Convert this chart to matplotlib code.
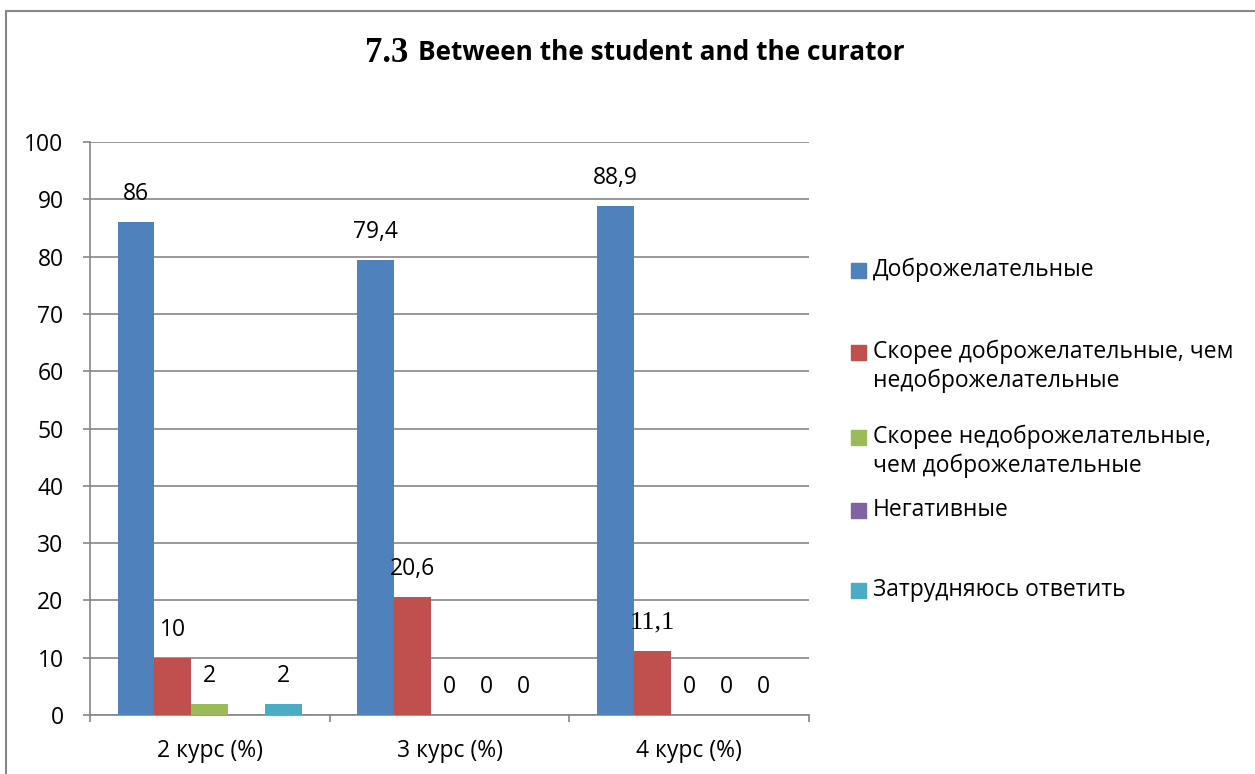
import numpy as np
import matplotlib
matplotlib.use("Agg")
import matplotlib.pyplot as plt
from matplotlib.patches import Rectangle

plt.rcParams['font.family'] = ['Open Sans', 'DejaVu Sans']

# Data
categories = ['2 курс (%)', '3 курс (%)', '4 курс (%)']
series_names = ['Доброжелательные',
                'Скорее доброжелательные, чем\nнедоброжелательные',
                'Скорее недоброжелательные,\nчем доброжелательные',
                'Негативные',
                'Затрудняюсь ответить']
friendly = [86, 79.4, 88.9]
rather_friendly = [10, 20.6, 11.1]
rather_unfriendly = [2, 0, 0]
negative = [np.nan, 0, 0]   # blank cell for 2 курс
hard_to_say = [2, 0, 0]
values = [friendly, rather_friendly, rather_unfriendly, negative, hard_to_say]

colors = ['#4F81BD', '#C0504D', '#9BBB59', '#8064A2', '#4BACC6']
grey = '#868686'
W, H = 1255, 774

fig = plt.figure(figsize=(12.55, 7.74), dpi=100)
ax = fig.add_axes([90 / W, 1 - 715 / H, (809 - 90) / W, (715 - 142) / H])

x = np.arange(len(categories))
bw = 0.154
for i, (vals, col) in enumerate(zip(values, colors)):
    pos = x + (i - 2) * bw
    ax.bar(pos, vals, width=bw, color=col, linewidth=0, zorder=3)
    for p, v, cat in zip(pos, vals, range(len(categories))):
        if np.isnan(v):
            continue
        txt = f'{v:g}'.replace('.', ',')
        # the 11,1 label was typed in a serif font in the original
        if i == 1 and cat == 2:
            ax.annotate(txt, (p, v), xytext=(0, 21), textcoords='offset points',
                        ha='center', va='center', fontsize=19,
                        family=['Liberation Serif'], zorder=4)
        else:
            ax.annotate(txt, (p, v), xytext=(0, 20), textcoords='offset points',
                        ha='center', va='center', fontsize=16.5, zorder=4)

ax.set_ylim(0, 100)
ax.set_xlim(-0.5, 2.5)
ax.set_yticks(range(0, 101, 10))
ax.yaxis.grid(True, color=grey, linewidth=1.2, zorder=0)
ax.tick_params(axis='y', length=5, width=1.2, color=grey, pad=14, labelsize=16.5)

ax.set_xticks([-0.5, 0.5, 1.5, 2.5])
ax.set_xticklabels([])
ax.tick_params(axis='x', which='major', length=5, width=1.2, color=grey)
ax.set_xticks(x, minor=True)
ax.set_xticklabels(categories, minor=True)
ax.tick_params(axis='x', which='minor', length=0, pad=17, labelsize=16.5)

for s in ['top', 'right']:
    ax.spines[s].set_visible(False)
for s in ['left', 'bottom']:
    ax.spines[s].set_color(grey)
    ax.spines[s].set_linewidth(1.2)

# legend, laid out by hand like the Excel original
square_y = [270, 352, 437, 510, 590]
text_y = [270, 366.5, 451, 510, 590]
for name, col, sy, ty in zip(series_names, colors, square_y, text_y):
    fig.patches.append(Rectangle((851 / W, 1 - (sy + 7.5) / H), 15 / W, 15 / H,
                                 transform=fig.transFigure, color=col))
    fig.text(873 / W, 1 - ty / H, name, ha='left', va='center', fontsize=16.5,
             linespacing=1.25)

# title: number in serif, the rest in sans
fig.text(408 / W, 1 - 53 / H, '7.3', ha='right', va='center', fontsize=25,
         fontweight='bold', family=['Liberation Serif'])
fig.text(418 / W, 1 - 53 / H, 'Between the student and the curator', ha='left',
         va='center', fontsize=18.9, fontweight='bold')

# chart border
fig.patches.append(Rectangle((6 / W, -0.1), 1.2, 1.1 - 11 / H, transform=fig.transFigure,
                             fill=False, edgecolor=grey, linewidth=1.5))

fig.savefig('out.png', dpi=100)
